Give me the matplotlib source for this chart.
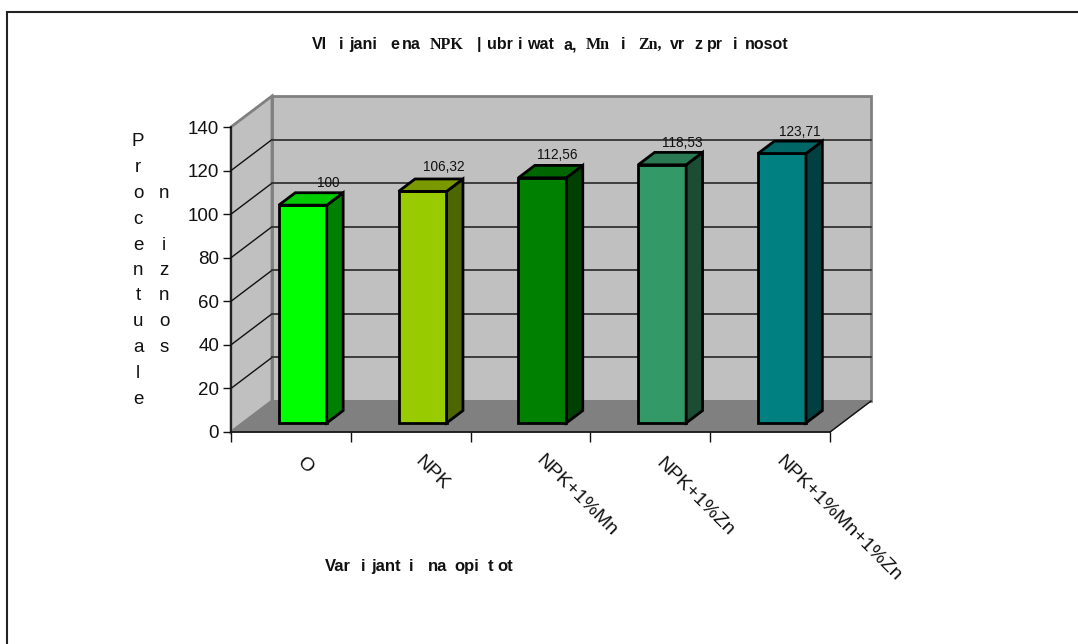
import matplotlib
matplotlib.use("Agg")
import matplotlib.pyplot as plt
from matplotlib.lines import Line2D
from matplotlib.patches import Polygon

W = 1078
H = 644

categories = ["O", "NPK", "NPK+1%Mn", "NPK+1%Zn", "NPK+1%Mn+1%Zn"]
values = [100, 106.32, 112.56, 118.53, 123.71]
value_labels = ["100", "106,32", "112,56", "118,53", "123,71"]
yticks = [0, 20, 40, 60, 80, 100, 120, 140]

front_colors = ["#00ff00", "#99cc00", "#008000", "#339966", "#008080"]
top_colors = ["#00cc00", "#7a9900", "#006600", "#297a52", "#006666"]
side_colors = ["#008000", "#4d6600", "#004000", "#1a4d33", "#004040"]

plt.rcParams['font.family'] = ['Liberation Sans', 'DejaVu Sans']

fig = plt.figure(figsize=(W / 100, H / 100), dpi=100)
fig.patch.set_facecolor('white')


def px(x, y):
    # pixel position (origin top left) to figure fraction
    return x / W, 1 - y / H


left, top = px(231, 127)
right, bottom = px(830, 432)
ax = fig.add_axes([left, bottom, right - left, top - bottom])
ax.set_xlim(0, 5)
ax.set_ylim(0, 140)
ax.patch.set_alpha(0)

# one full step of depth in data units
DX = 41 / (599 / 5)
DY = 31 / (305 / 140)
BAR_W = 0.4
D_FRONT = 0.29
D_BACK = 0.69


def shift(x, y, d):
    return (x + DX * d, y + DY * d)


def poly(points, **kw):
    kw.setdefault('clip_on', False)
    p = Polygon(points, closed=True, **kw)
    ax.add_patch(p)


wall = '#c0c0c0'
edge = '#808080'
# back wall, side wall and floor
poly([shift(0, 0, 1), shift(5, 0, 1), shift(5, 140, 1), shift(0, 140, 1)],
     facecolor=wall, edgecolor=edge, linewidth=2, zorder=1)
poly([(0, 0), shift(0, 0, 1), shift(0, 140, 1), (0, 140)],
     facecolor=wall, edgecolor=edge, linewidth=2, zorder=1)
poly([(0, 0), (5, 0), shift(5, 0, 1), shift(0, 0, 1)],
     facecolor='#808080', edgecolor='#808080', linewidth=1, zorder=2)

# gridlines run along the side wall and across the back wall
for t in yticks[1:-1]:
    a = (0, t)
    b = shift(0, t, 1)
    c = shift(5, t, 1)
    ax.plot([a[0], b[0]], [a[1], b[1]], color='#111111', lw=1, clip_on=False, zorder=2)
    ax.plot([b[0], c[0]], [b[1], c[1]], color='#333333', lw=1.3, clip_on=False, zorder=2)

# floor edge on the right
ax.plot([5, shift(5, 0, 1)[0]], [0, 0 + DY], color='#111111', lw=1, clip_on=False, zorder=3)

# value label offsets from the back top edge of each bar, in pixels
label_dx = [9, 5, -2, 4, 1]
label_dy = [10, 12, 10, 9, 9]

for i, v in enumerate(values):
    x0 = i + 0.5 - BAR_W / 2
    x1 = i + 0.5 + BAR_W / 2
    style = dict(edgecolor='black', linewidth=2, joinstyle='miter', zorder=4)
    poly([shift(x0, 0, D_FRONT), shift(x1, 0, D_FRONT), shift(x1, v, D_FRONT), shift(x0, v, D_FRONT)],
         facecolor=front_colors[i], **style)
    poly([shift(x1, 0, D_FRONT), shift(x1, 0, D_BACK), shift(x1, v, D_BACK), shift(x1, v, D_FRONT)],
         facecolor=side_colors[i], **style)
    poly([shift(x0, v, D_FRONT), shift(x1, v, D_FRONT), shift(x1, v, D_BACK), shift(x0, v, D_BACK)],
         facecolor=top_colors[i], **style)
    lx, ly = shift(i + 0.5, v, D_BACK)
    ax.annotate(value_labels[i], (lx, ly), xytext=(label_dx[i] * 0.72, label_dy[i] * 0.72),
                textcoords='offset points', ha='center', va='center', fontsize=9.8,
                color='#111111', zorder=6, annotation_clip=False)

for s in ['top', 'right']:
    ax.spines[s].set_visible(False)
for s in ['left', 'bottom']:
    ax.spines[s].set_linewidth(1.2)
    ax.spines[s].set_color('#111111')
    ax.spines[s].set_zorder(3)

ax.set_yticks(yticks)
ax.set_xticks(range(6))
ax.set_xticklabels([])
ax.tick_params(axis='y', length=6, width=1, labelsize=13.5, pad=2.5, colors='#111111')
ax.tick_params(axis='x', length=7, width=1, colors='#111111')

# rotated category names, anchored on their upper left end
label_pos = [(299, 460), (418, 459), (539, 458), (659, 461), (779, 459)]
for name, (lx, ly) in zip(categories, label_pos):
    fx, fy = px(lx, ly)
    fig.text(fx, fy, name, rotation=-45, rotation_mode='anchor', ha='left', va='center',
             fontsize=14, color='#111111')

# stacked axis title letters
col1 = "Procentuale"
col1_y = [142, 167, 193, 219, 245, 271, 296, 322, 348, 374, 400]
for ch, y in zip(col1, col1_y):
    fx, fy = px(138, y)
    fig.text(fx, fy, ch, ha='center', va='center', fontsize=13.5, color='#111111')
col2 = "niznos"
col2_y = [193, 245, 271, 296, 322, 348]
for ch, y in zip(col2, col2_y):
    fx, fy = px(164, y)
    fig.text(fx, fy, ch, ha='center', va='center', fontsize=13.5, color='#111111')

# title and x axis title come in pieces because of the mixed fonts and loose spacing
title_parts = [
    ("Vl", 312, 'Liberation Sans'), ("i", 339, 'Liberation Sans'), ("jani", 349, 'Liberation Sans'),
    ("e", 390, 'Liberation Sans'), ("na", 402, 'Liberation Sans'),
    ("NPK", 430, 'Liberation Serif'), ("|", 477, 'Liberation Sans'), ("ubr", 487, 'Liberation Sans'),
    ("i", 518, 'Liberation Sans'), ("wat", 527, 'Liberation Sans'), ("a,", 563, 'Liberation Sans'),
    ("Mn", 586, 'Liberation Serif'), ("i", 621, 'Liberation Sans'), ("Zn,", 638, 'Liberation Serif'),
    ("vr", 670, 'Liberation Sans'), ("z", 694, 'Liberation Sans'), ("pr", 707, 'Liberation Sans'),
    ("i", 733, 'Liberation Sans'), ("nosot", 745, 'Liberation Sans'),
]
for text, x, fam in title_parts:
    fx, fy = px(x, 49)
    fig.text(fx, fy, text, ha='left', va='baseline', fontsize=11.5, fontweight='bold',
             family=fam, color='#111111')

xtitle_parts = [("Var", 325), ("i", 361), ("jant", 371), ("i", 409), ("na", 428), ("opi", 454), ("t", 488), ("ot", 497)]
for text, x in xtitle_parts:
    fx, fy = px(x, 571)
    fig.text(fx, fy, text, ha='left', va='baseline', fontsize=12, fontweight='bold', color='#111111')

# frame lines along the top and left of the chart area
fig.add_artist(Line2D([7 / W, 7 / W, 1], [0, 1 - 12 / H, 1 - 12 / H], transform=fig.transFigure,
                      color='#222222', linewidth=1.5, solid_joinstyle='miter'))

fig.savefig('out.png', dpi=100)
